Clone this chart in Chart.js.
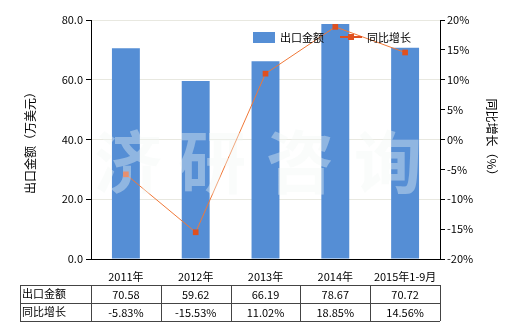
<!DOCTYPE html>
<html lang="zh">
<head>
  <meta charset="UTF-8" />
  <title>出口金额与同比增长</title>
  <script src="https://cdn.jsdelivr.net/npm/chart.js"></script>
  <style>
    html, body { margin: 0; padding: 0; background: #fff; }
    .wrap { position: relative; width: 520px; height: 330px; }
  </style>
</head>
<body>
  <div class="wrap">
    <canvas id="c" width="520" height="330"></canvas>
  </div>
  <script>
    // 数据
    const years = ["2011年", "2012年", "2013年", "2014年", "2015年1-9月"];
    const amount = [70.58, 59.62, 66.19, 78.67, 70.72];
    const growth = [-5.83, -15.53, 11.02, 18.85, 14.56];
    const amountLabels = ["70.58", "59.62", "66.19", "78.67", "70.72"];
    const growthLabels = ["-5.83%", "-15.53%", "11.02%", "18.85%", "14.56%"];

    const FONT = '"Noto Sans CJK SC", "DejaVu Sans", sans-serif';
    const BLUE = "#558ed5";
    const RED = "#e0501e";

    // 表格、标题、图例、水印
    const extras = {
      id: "extras",
      afterDraw(chart) {
        const ctx = chart.ctx;
        const x = chart.scales.x;
        const area = chart.chartArea;
        ctx.save();

        // 轴标题
        ctx.fillStyle = "#000";
        ctx.font = "12px " + FONT;
        ctx.textAlign = "center";
        ctx.textBaseline = "middle";
        ctx.save();
        ctx.translate(30, 140);
        ctx.rotate(-Math.PI / 2);
        ctx.fillText("出口金额（万美元）", 0, 0);
        ctx.restore();
        ctx.save();
        ctx.translate(492, 140);
        ctx.rotate(Math.PI / 2);
        ctx.fillText("同比增长（%）", 0, 0);
        ctx.restore();

        // 图例
        ctx.font = "11px " + FONT;
        ctx.textAlign = "left";
        ctx.fillStyle = BLUE;
        ctx.fillRect(253, 32, 22, 11);
        ctx.fillStyle = "#000";
        ctx.fillText("出口金额", 280, 38);
        ctx.strokeStyle = RED;
        ctx.lineWidth = 2;
        ctx.beginPath();
        ctx.moveTo(340, 37);
        ctx.lineTo(362, 37);
        ctx.stroke();
        ctx.fillStyle = RED;
        ctx.fillRect(348, 34, 6, 6);
        ctx.fillStyle = "#000";
        ctx.fillText("同比增长", 367, 38);

        // 表格
        const top = 285, rowH = 18, left = 20;
        ctx.strokeStyle = "#444";
        ctx.lineWidth = 1;
        ctx.beginPath();
        for (let r = 0; r <= 2; r++) {
          ctx.moveTo(left, top + r * rowH + 0.5);
          ctx.lineTo(area.right, top + r * rowH + 0.5);
        }
        const step = (area.right - area.left) / years.length;
        ctx.moveTo(left + 0.5, top);
        ctx.lineTo(left + 0.5, top + 2 * rowH);
        for (let i = 0; i <= years.length; i++) {
          const xx = Math.round(area.left + i * step) + 0.5;
          ctx.moveTo(xx, top);
          ctx.lineTo(xx, top + 2 * rowH);
        }
        ctx.stroke();
        ctx.fillStyle = "#000";
        ctx.textAlign = "left";
        ctx.fillText("出口金额", left + 2, top + rowH / 2);
        ctx.fillText("同比增长", left + 2, top + rowH * 1.5);
        ctx.textAlign = "center";
        years.forEach((y, i) => {
          const cx = x.getPixelForValue(i);
          ctx.fillText(amountLabels[i], cx, top + rowH / 2 + 1);
          ctx.fillText(growthLabels[i], cx, top + rowH * 1.5 + 1);
        });

        // 水印
        ctx.font = "bold 68px " + FONT;
        ctx.fillStyle = "rgba(243,247,245,0.38)";
        ctx.textBaseline = "middle";
        const wm = "济研咨询";
        const wx = [128, 212, 300, 388];
        for (let i = 0; i < wm.length; i++) ctx.fillText(wm[i], wx[i], 162);

        ctx.restore();
      }
    };

    new Chart(document.getElementById("c"), {
      data: {
        labels: years,
        datasets: [
          {
            type: "line",
            label: "同比增长",
            data: growth,
            yAxisID: "y1",
            borderColor: "#f07838",
            borderWidth: 1,
            pointStyle: "rect",
            pointRadius: 4,
            pointBackgroundColor: RED,
            pointBorderColor: RED,
            pointBorderWidth: 0,
            tension: 0,
            order: 0
          },
          {
            type: "bar",
            label: "出口金额",
            data: amount,
            yAxisID: "y",
            backgroundColor: BLUE,
            categoryPercentage: 0.8,
            barPercentage: 0.5,
            order: 1
          }
        ]
      },
      options: {
        responsive: false,
        animation: false,
        layout: { padding: { top: 20, left: 0, right: 0, bottom: 0 } },
        plugins: { legend: { display: false }, tooltip: { enabled: false } },
        scales: {
          x: {
            afterFit: s => { s.height = 71; },
            grid: { display: false, drawOnChartArea: false, tickLength: 5 },
            border: { color: "#000", width: 1 },
            ticks: { color: "#000", font: { family: FONT, size: 11 }, padding: 6, maxRotation: 0 }
          },
          y: {
            position: "left",
            min: 0, max: 80,
            afterFit: s => { s.width = 91; },
            grid: { color: "#e8e8e0", tickLength: 5, drawTicks: true, tickColor: "#000" },
            border: { color: "#000", width: 1 },
            ticks: { stepSize: 20, color: "#000", font: { family: FONT, size: 11 }, padding: 3,
                     callback: v => v.toFixed(1) }
          },
          y1: {
            position: "right",
            min: -20, max: 20,
            afterFit: s => { s.width = 80; },
            grid: { drawOnChartArea: false, tickLength: 5, tickColor: "#000" },
            border: { color: "#000", width: 1 },
            ticks: { stepSize: 5, color: "#000", font: { family: FONT, size: 11 }, padding: 2,
                     callback: v => v + "%" }
          }
        }
      },
      plugins: [extras]
    });
  </script>
</body>
</html>
